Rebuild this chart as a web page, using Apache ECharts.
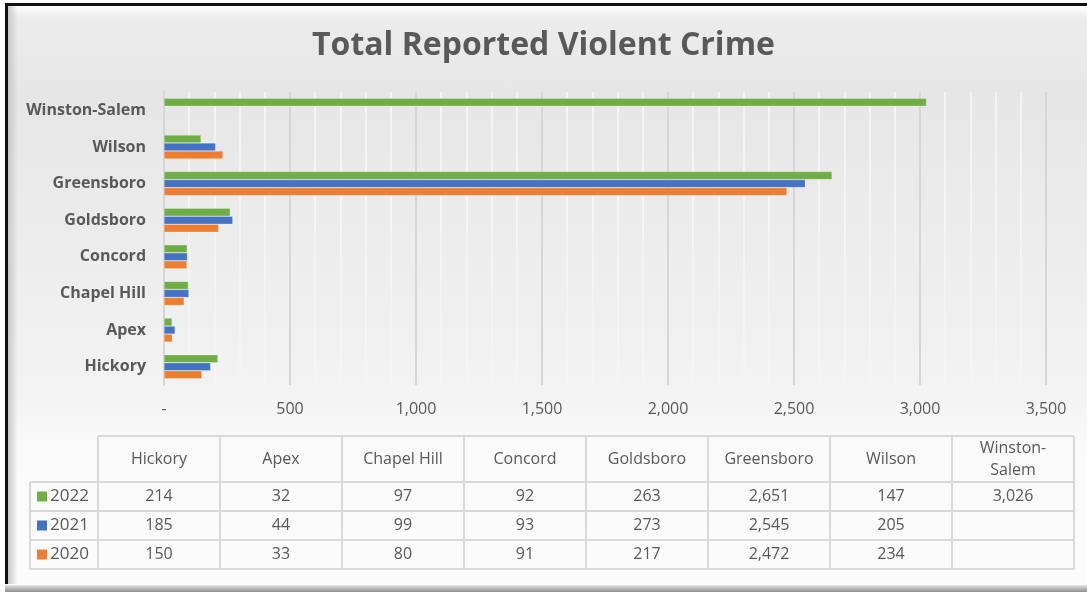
<!DOCTYPE html>
<html>
<head>
<meta charset="utf-8">
<script src="https://cdn.jsdelivr.net/npm/echarts@6/dist/echarts.min.js"></script>
<style>
  html, body { margin:0; padding:0; width:1087px; height:592px; overflow:hidden; background:#ffffff; }
  #frame { position:absolute; left:5px; top:3px; width:1082px; height:581px;
    border-top:3px solid #111; border-left:3px solid #111; box-sizing:border-box;
    background: linear-gradient(to bottom, #ffffff 0px, #ececec 12px, #e6e6e6 90px, #f3f3f3 390px, #fafafa 440px, #fbfbfb 100%); }
  #bevel { position:absolute; left:8px; top:6px; width:10px; height:578px;
    background: linear-gradient(to right, #c8c8c8, rgba(230,230,230,0)); }
  #shadow { position:absolute; left:5px; top:585px; width:1082px; height:7px;
    background: linear-gradient(to bottom, #e4e4e4, #b0b0b0 60%, #909090 100%); }
  #chart { position:absolute; left:0; top:0; width:1087px; height:592px; }
</style>
</head>
<body>
<div id="frame"></div>
<div id="bevel"></div>
<div id="shadow"></div>
<div id="chart"></div>
<script>
// ---- data ----
var categories = ['Hickory', 'Apex', 'Chapel Hill', 'Concord', 'Goldsboro', 'Greensboro', 'Wilson', 'Winston-Salem'];
var tableHeaders = ['Hickory', 'Apex', 'Chapel Hill', 'Concord', 'Goldsboro', 'Greensboro', 'Wilson', 'Winston-\nSalem'];
var seriesNames = ['2022', '2021', '2020'];
var values2022 = [214, 32, 97, 92, 263, 2651, 147, 3026];
var values2021 = [185, 44, 99, 93, 273, 2545, 205, null];
var values2020 = [150, 33, 80, 91, 217, 2472, 234, null];
var xTicks = { min: 0, max: 3500, interval: 500 };
var colors = ['#70AD47', '#4472C4', '#ED7D31'];
var seriesValues = [values2022, values2021, values2020];

var FONT = '"Open Sans", "Noto Sans", sans-serif';
function fmt(v) { return v == null ? '' : v.toLocaleString('en-US'); }

// ---- table graphics ----
var graphics = [];
var tLeft = 98, colW = 122, legLeft = 30;
var yHeadTop = 436, yHeadBot = 482, rowH = 29;
var nCols = tableHeaders.length;
var tRight = tLeft + colW * nCols;
var yBottom = yHeadBot + rowH * seriesNames.length;
var lineStyle = { stroke: '#d9d9d9', lineWidth: 2 };
graphics.push({ type: 'line', shape: { x1: tLeft, y1: yHeadTop, x2: tRight, y2: yHeadTop }, style: lineStyle, z: 10 });
for (var r = 0; r <= seriesNames.length; r++) {
  var yy = yHeadBot + r * rowH;
  graphics.push({ type: 'line', shape: { x1: legLeft, y1: yy, x2: tRight, y2: yy }, style: lineStyle, z: 10 });
}
graphics.push({ type: 'line', shape: { x1: legLeft, y1: yHeadBot, x2: legLeft, y2: yBottom }, style: lineStyle, z: 10 });
for (var c = 0; c <= nCols; c++) {
  var xx = tLeft + c * colW;
  graphics.push({ type: 'line', shape: { x1: xx, y1: yHeadTop, x2: xx, y2: yBottom }, style: lineStyle, z: 10 });
}
tableHeaders.forEach(function (h, i) {
  graphics.push({ type: 'text', x: tLeft + i * colW + colW / 2, y: (yHeadTop + yHeadBot) / 2, z: 11,
    style: { text: h, fill: '#595959', font: '16px ' + FONT, textAlign: 'center', textVerticalAlign: 'middle', lineHeight: 22 } });
});
seriesNames.forEach(function (name, r) {
  var cy = yHeadBot + r * rowH + rowH / 2;
  graphics.push({ type: 'rect', shape: { x: 37, y: cy - 5, width: 10, height: 10 }, style: { fill: colors[r] }, z: 11 });
  graphics.push({ type: 'text', x: 50, y: cy, z: 11,
    style: { text: name, fill: '#595959', font: '17px ' + FONT, textAlign: 'left', textVerticalAlign: 'middle' } });
  seriesValues[r].forEach(function (v, i) {
    graphics.push({ type: 'text', x: tLeft + i * colW + colW / 2, y: cy, z: 11,
      style: { text: fmt(v), fill: '#595959', font: '16px ' + FONT, textAlign: 'center', textVerticalAlign: 'middle' } });
  });
});

// ---- chart ----
var chart = echarts.init(document.getElementById('chart'), null, { renderer: 'canvas' });
var series = seriesNames.map(function (name, i) {
  return {
    name: name, type: 'bar', data: seriesValues[i],
    barWidth: 8, barGap: '0%',
    itemStyle: { color: colors[i], borderColor: 'rgba(255,255,255,0.5)', borderWidth: 0.5 },
    silent: true
  };
});
chart.setOption({
  animation: false,
  backgroundColor: 'transparent',
  title: { text: 'Total Reported Violent Crime', left: 'center', top: 25,
    textStyle: { fontFamily: FONT, fontWeight: 'bold', fontSize: 32, color: '#595959' } },
  grid: { left: 164, right: 41, top: 92, bottom: 207, containLabel: false },
  xAxis: {
    type: 'value', min: xTicks.min, max: xTicks.max, interval: xTicks.interval,
    axisLine: { show: false }, axisTick: { show: false },
    axisLabel: { fontFamily: FONT, fontSize: 16, color: '#595959', margin: 16,
      formatter: function (v) { return v === 0 ? '-' : v.toLocaleString('en-US'); } },
    splitLine: { show: true, lineStyle: { color: '#d6d6d6', width: 2 } },
    minorTick: { show: false, splitNumber: 5 },
    minorSplitLine: { show: true, lineStyle: { color: '#f4f4f4', width: 2 } }
  },
  yAxis: {
    type: 'category', data: categories,
    axisLine: { show: true, lineStyle: { color: '#d6d6d6', width: 2 } },
    axisTick: { show: false },
    axisLabel: { fontFamily: FONT, fontWeight: 'bold', fontSize: 16, color: '#595959', margin: 18 }
  },
  series: series,
  graphic: graphics
});
</script>
</body>
</html>
